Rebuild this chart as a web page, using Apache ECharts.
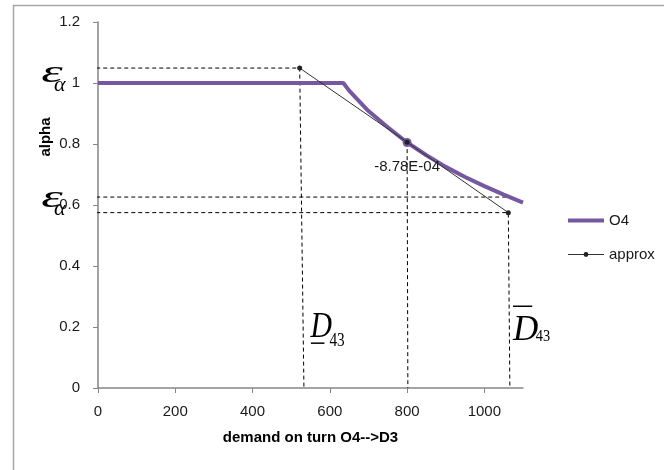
<!DOCTYPE html>
<html>
<head>
<meta charset="utf-8">
<script src="https://cdn.jsdelivr.net/npm/echarts@6/dist/echarts.min.js"></script>
<style>
  html, body { margin: 0; padding: 0; background: #fff; }
  #chart { width: 664px; height: 470px; }
</style>
</head>
<body>
<div id="chart"></div>
<script>
// O4 curve: alpha against demand on turn O4-->D3
const o4Demand = [0, 635, 650, 700, 750, 800, 850, 900, 950, 1000, 1050, 1100];
const o4Alpha = [1, 1, 0.975, 0.908, 0.855, 0.805, 0.763, 0.725, 0.692, 0.662, 0.634, 0.608];
const o4MarkedDemand = 800;
const slopeText = '-8.78E-04';

// tangent approximation through the point at 800
const approxDemand = [522, 800, 1062];
const approxAlpha = [1.049, 0.806, 0.575];

// dashed guide levels
const guideLeft = -77;          // guides run out past the y axis
const epsUpper = 0.626;
const dLowBottom = 533;         // foot of the lower D43 guide
const dHighBottom = 1066;       // foot of the upper D43 guide
const midBottom = 802;

const xMax = 1100;
const yMax = 1.2;

const sans = '"Liberation Sans", Arial, sans-serif';
const serif = '"Liberation Serif", "Times New Roman", serif';
const textColor = '#1a1a1a';

const pairs = (xs, ys) => xs.map((x, i) => [x, ys[i]]);

const guides = [
  [[guideLeft, approxAlpha[0]], [approxDemand[0], approxAlpha[0]], [dLowBottom, 0]],
  [[guideLeft, epsUpper], [approxDemand[2] - 2, epsUpper]],
  [[guideLeft, approxAlpha[2]], [approxDemand[2], approxAlpha[2]], [dHighBottom, 0]],
  [[approxDemand[1], approxAlpha[1]], [midBottom, 0]]
];

const guideSeries = guides.map((g, i) => ({
  name: 'guide' + i,
  type: 'line',
  data: g,
  symbol: 'none',
  clip: false,
  silent: true,
  z: 1,
  lineStyle: { color: '#000', width: 1, type: [4, 3] }
}));

const option = {
  animation: false,
  backgroundColor: '#fff',
  grid: { left: 98, right: 141, top: 22, bottom: 82 },
  legend: {
    orient: 'vertical',
    left: 561,
    top: 208,
    itemWidth: 36,
    itemHeight: 6,
    itemGap: 19,
    textStyle: { fontFamily: sans, fontSize: 15, color: textColor },
    data: [
      { name: 'O4', itemStyle: { opacity: 0 }, lineStyle: { width: 4 } },
      { name: 'approx', lineStyle: { width: 1 } }
    ]
  },
  xAxis: {
    type: 'value',
    min: 0,
    max: xMax,
    interval: 200,
    name: 'demand on turn O4-->D3',
    nameLocation: 'middle',
    nameGap: 42,
    nameTextStyle: { fontFamily: sans, fontSize: 15, fontWeight: 'bold', color: '#000' },
    axisLine: { lineStyle: { color: '#868686', width: 1.5 } },
    axisTick: { show: true, length: 5, lineStyle: { color: '#868686' } },
    axisLabel: { showMaxLabel: false, margin: 16, fontFamily: sans, fontSize: 15, color: textColor, formatter: v => String(v) },
    splitLine: { show: false }
  },
  yAxis: {
    type: 'value',
    min: 0,
    max: yMax,
    interval: 0.2,
    axisLine: { show: true, lineStyle: { color: '#868686', width: 1.5 } },
    axisTick: { show: true, length: 5, lineStyle: { color: '#868686' } },
    axisLabel: { margin: 18, fontFamily: sans, fontSize: 15, color: textColor },
    splitLine: { show: false }
  },
  series: [
    ...guideSeries,
    {
      name: 'O4',
      type: 'line',
      z: 3,
      symbol: 'none',
      data: pairs(o4Demand, o4Alpha).map(p => p[0] === o4MarkedDemand
        ? {
            value: p, symbol: 'circle', symbolSize: 9,
            label: { show: true, position: 'bottom', distance: 12, formatter: slopeText, fontFamily: sans, fontSize: 15, color: textColor }
          }
        : p),
      lineStyle: { color: '#7558a0', width: 4 },
      itemStyle: { color: '#7558a0' }
    },
    {
      name: 'approx',
      type: 'line',
      z: 4,
      symbol: 'circle',
      symbolSize: 5,
      data: pairs(approxDemand, approxAlpha),
      lineStyle: { color: '#333', width: 1 },
      itemStyle: { color: '#222' }
    }
  ]
};

const chart = echarts.init(document.getElementById('chart'));
chart.setOption(option);

// math annotations anchored in data units
const px = (x, y) => chart.convertToPixel({ gridIndex: 0 }, [x, y]);
function glyph(text, x, y, size, sx, italic) {
  const p = px(x, y);
  return {
    type: 'text', x: p[0], y: p[1], scaleX: sx || 1, z: 10,
    style: { text, fontFamily: serif, fontStyle: italic === false ? 'normal' : 'italic', fontSize: size, fill: '#000', align: 'left', verticalAlign: 'middle' }
  };
}
function bar(x1, x2, y) {
  const a = px(x1, y), b = px(x2, y);
  return { type: 'line', z: 10, shape: { x1: a[0], y1: a[1], x2: b[0], y2: b[1] }, style: { stroke: '#000', lineWidth: 1.5 } };
}
const namePos = px(-134, 0.823);

chart.setOption({
  graphic: [
    { type: 'rect', left: 11, top: 3, z: 0, shape: { width: 700, height: 500 }, style: { fill: 'none', stroke: '#a6a6a6', lineWidth: 1.5 } },
    {
      type: 'text', x: namePos[0], y: namePos[1], rotation: Math.PI / 2, z: 10,
      style: { text: 'alpha', fontFamily: sans, fontSize: 15, fontWeight: 'bold', fill: '#000', align: 'center', verticalAlign: 'middle' }
    },
    glyph('ε', -147, 1.030, 32, 1.7),
    glyph('α', -114, 0.993, 22),
    glyph('ε', -147, 0.620, 32, 1.7),
    glyph('α', -114, 0.585, 22),
    glyph('D', 550, 0.199, 35, 0.85),
    glyph('43', 599, 0.152, 18, 0.85, false),
    bar(551, 586, 0.147),
    glyph('D', 1074, 0.188, 35),
    glyph('43', 1133, 0.169, 16, 0.9, false),
    bar(1074, 1124, 0.268)
  ]
});
</script>
</body>
</html>
